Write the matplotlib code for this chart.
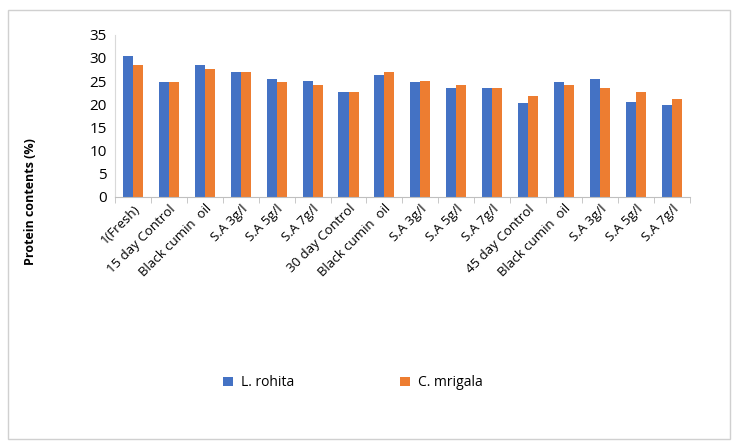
import matplotlib.pyplot as plt
import numpy as np
from matplotlib.patches import Rectangle

categories = ["1(Fresh)", "15 day Control", "Black cumin  oil", "S.A 3g/l", "S.A 5g/l",
              "S.A 7g/l", "30 day Control", "Black cumin  oil", "S.A 3g/l", "S.A 5g/l",
              "S.A 7g/l", "45 day Control", "Black cumin  oil", "S.A 3g/l", "S.A 5g/l",
              "S.A 7g/l"]
rohita = [30.5, 24.8, 28.5, 26.9, 25.5, 25.0, 22.6, 26.3, 24.8, 23.4, 23.4, 20.2, 24.8, 25.5, 20.5, 19.8]
mrigala = [28.5, 24.8, 27.7, 26.9, 24.8, 24.1, 22.6, 27.0, 25.0, 24.1, 23.4, 21.8, 24.1, 23.4, 22.7, 21.2]

plt.rcParams['font.family'] = ['Open Sans', 'DejaVu Sans']

fig = plt.figure(figsize=(7.37, 4.41), dpi=100)
ax = fig.add_axes([0.156, 0.554, 0.780, 0.367])

x = np.arange(len(categories))
w = 0.28
ax.bar(x - w / 2, rohita, w, color="#4472C4", label="L. rohita")
ax.bar(x + w / 2, mrigala, w, color="#ED7D31", label="C. mrigala")

ax.set_xlim(-0.5, len(categories) - 0.5)
ax.set_ylim(0, 35)
ax.set_yticks(range(0, 36, 5))
ax.tick_params(axis="y", length=0, labelsize=11, pad=6)
ax.set_xticks(x)
ax.set_xticklabels(categories, rotation=45, ha="right", rotation_mode="anchor", fontsize=9.5)
ax.set_xticks(np.arange(-0.5, len(categories), 1), minor=True)
ax.tick_params(axis="x", which="major", length=0, pad=4)
ax.tick_params(axis="x", which="minor", length=4, color="#bfbfbf")

for s in ["top", "right"]:
    ax.spines[s].set_visible(False)
ax.spines["left"].set_color("#d9d9d9")
ax.spines["bottom"].set_color("#bfbfbf")

fig.text(0.042, 0.542, "Protein contents (%)", rotation=90, fontsize=9,
         fontweight="bold", ha="center", va="center")

fig.legend(loc="center", bbox_to_anchor=(0.479, 0.132), ncol=2, frameon=False,
           fontsize=10, handlelength=0.7, handleheight=0.7, handletextpad=0.6,
           columnspacing=7.6)

fig.add_artist(Rectangle((0.011, 0.005), 0.979, 0.972, transform=fig.transFigure,
                         fill=False, edgecolor="#d0d0d0", linewidth=1))

fig.savefig("out.png", dpi=100)
